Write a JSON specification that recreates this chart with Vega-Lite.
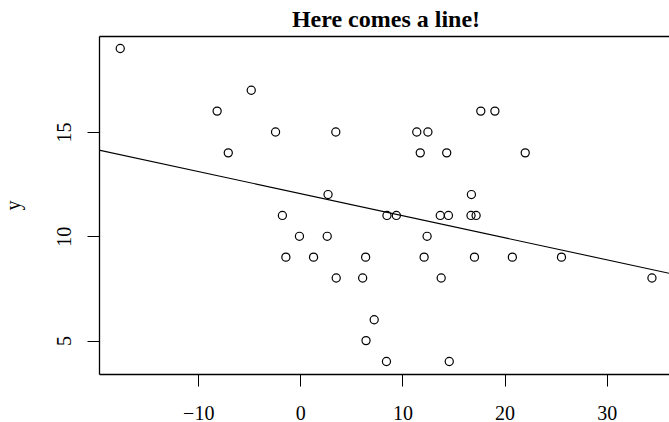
{
  "$schema": "https://vega.github.io/schema/vega-lite/v6.json",
  "autosize": {"type": "none"},
  "width": 570,
  "height": 338,
  "padding": {"left": 99, "top": 36, "right": 0, "bottom": 48},
  "background": "white",
  "config": {
    "view": {"stroke": null},
    "font": "Liberation Serif",
    "axis": {
      "grid": false,
      "domainColor": "black",
      "domainWidth": 1.3,
      "tickColor": "black",
      "tickWidth": 1,
      "tickSize": 12,
      "labelFont": "Liberation Serif",
      "labelFontSize": 20,
      "labelColor": "black",
      "titleFont": "Liberation Serif",
      "titleFontSize": 20,
      "titleFontWeight": "normal",
      "titleColor": "black"
    }
  },
  "title": {
    "text": "Here comes a line!",
    "font": "Liberation Serif",
    "fontSize": 24,
    "fontWeight": "bold",
    "color": "black",
    "anchor": "middle",
    "baseline": "bottom",
    "offset": 4,
    "dx": 2,
    "dy": 24
  },
  "datasets": {
    "pts": [
      {"x": -17.64, "y": 19}, {"x": -8.15, "y": 16}, {"x": -4.81, "y": 17}, {"x": 17.67, "y": 16}, {"x": 19.05, "y": 16},
      {"x": -2.43, "y": 15}, {"x": 3.47, "y": 15}, {"x": 11.40, "y": 15}, {"x": 12.49, "y": 15},
      {"x": -7.06, "y": 14}, {"x": 11.74, "y": 14}, {"x": 14.33, "y": 14}, {"x": 22.02, "y": 14},
      {"x": 2.71, "y": 12}, {"x": 16.75, "y": 12},
      {"x": -1.76, "y": 11}, {"x": 8.48, "y": 11}, {"x": 9.40, "y": 11}, {"x": 13.70, "y": 11}, {"x": 14.50, "y": 11}, {"x": 16.71, "y": 11}, {"x": 17.21, "y": 11},
      {"x": -0.09, "y": 10}, {"x": 2.63, "y": 10}, {"x": 12.41, "y": 10},
      {"x": -1.42, "y": 9}, {"x": 1.29, "y": 9}, {"x": 6.39, "y": 9}, {"x": 12.12, "y": 9}, {"x": 17.05, "y": 9}, {"x": 20.76, "y": 9}, {"x": 25.57, "y": 9},
      {"x": 3.51, "y": 8}, {"x": 6.10, "y": 8}, {"x": 13.79, "y": 8}, {"x": 34.43, "y": 8},
      {"x": 7.23, "y": 6}, {"x": 6.43, "y": 5}, {"x": 8.43, "y": 4}, {"x": 14.58, "y": 4}
    ],
    "fit": [
      {"x": -19.72, "y": 14.13},
      {"x": 36.1, "y": 8.23}
    ]
  },
  "layer": [
    {
      "data": {"name": "pts"},
      "mark": {"type": "point", "shape": "circle", "filled": false, "color": "black", "size": 66, "strokeWidth": 1.2, "opacity": 1},
      "encoding": {
        "x": {
          "field": "x", "type": "quantitative",
          "scale": {"domain": [-19.72, 36.1], "nice": false, "zero": false},
          "axis": {"orient": "bottom", "values": [-10, 0, 10, 20, 30], "title": null, "labelPadding": 17, "labelBaseline": "top", "labelAlign": "center"}
        },
        "y": {
          "field": "y", "type": "quantitative",
          "scale": {"domain": [3.4, 19.6], "nice": false, "zero": false},
          "axis": {"values": [5, 10, 15], "title": "y", "labelAngle": -90, "labelAlign": "center", "labelBaseline": "alphabetic", "labelPadding": 17, "titleAngle": -90, "titleAlign": "center", "titleBaseline": "alphabetic", "titleX": -80, "titleY": 169}
        }
      }
    },
    {
      "data": {"name": "fit"},
      "mark": {"type": "line", "color": "black", "strokeWidth": 1.1, "clip": true},
      "encoding": {
        "x": {
          "field": "x", "type": "quantitative",
          "scale": {"domain": [-19.72, 36.1], "nice": false, "zero": false},
          "axis": {"orient": "top", "labels": false, "ticks": false, "title": null, "domain": true}
        },
        "y": {"field": "y", "type": "quantitative", "scale": {"domain": [3.4, 19.6], "nice": false, "zero": false}}
      }
    }
  ],
  "resolve": {"axis": {"x": "independent"}}
}
